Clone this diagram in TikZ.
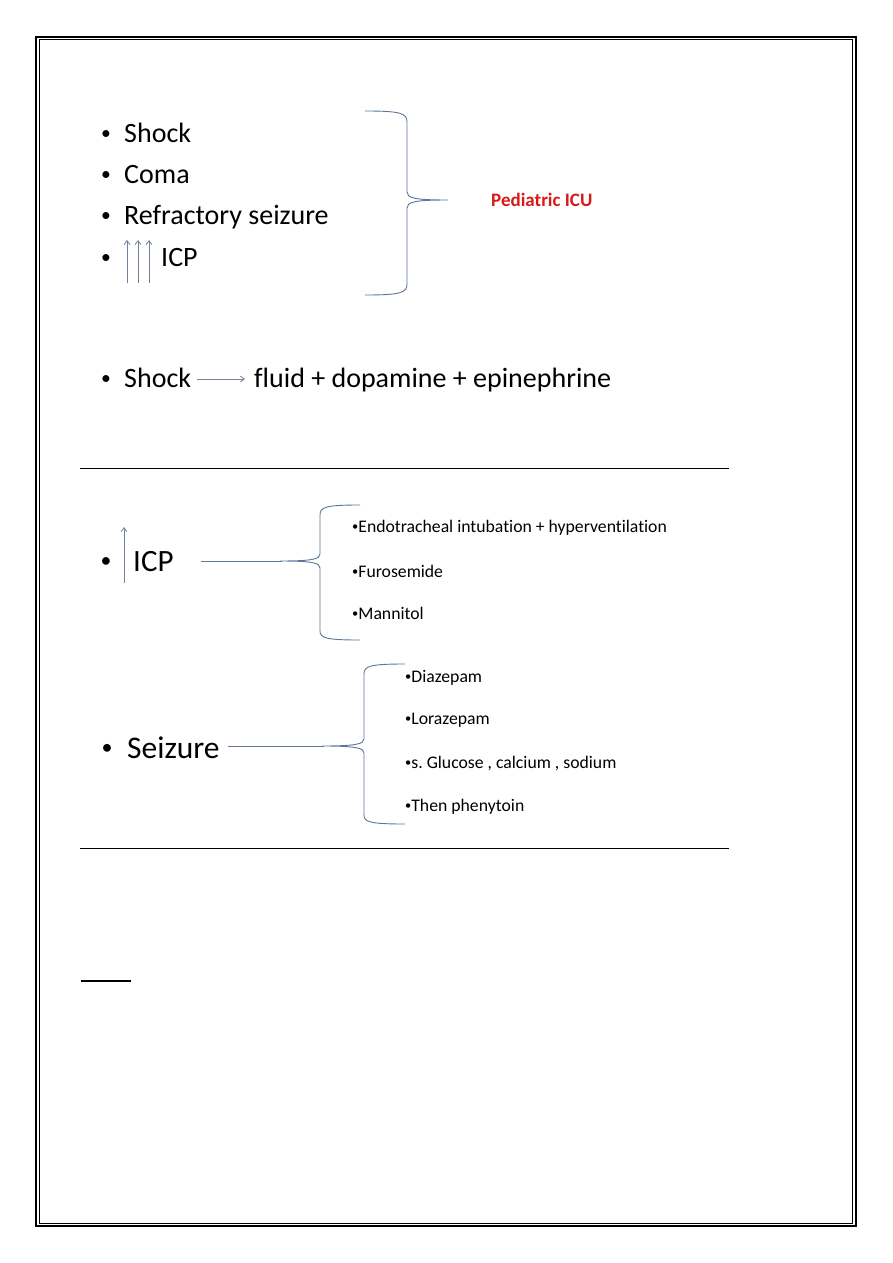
\documentclass[tikz,border=0pt]{standalone}
\usepackage{fontspec}
\setmainfont{Carlito}[Ligatures=NoCommon]
\usetikzlibrary{arrows.meta}
\definecolor{bracecol}{RGB}{90,118,156}
\definecolor{arrcol}{RGB}{112,128,154}
\definecolor{icured}{RGB}{214,26,26}
\newcommand{\smbul}{\raisebox{0.1em}{\scalebox{0.7}{•}}}
\begin{document}
\begin{tikzpicture}[x=1pt,y=-1pt,
  big/.style={inner sep=0pt,anchor=base west,font=\fontsize{28}{31}\selectfont},
  bigbul/.style={inner sep=0pt,anchor=base,font=\fontsize{28}{31}\selectfont},
  item/.style={inner sep=0pt,anchor=base west,font=\fontsize{17.7}{20}\selectfont},
  bracepath/.style={draw=bracecol,line width=0.9pt},
  conn/.style={draw=bracecol!80!gray,line width=0.9pt},
  uparr/.style={draw=arrcol,line width=0.8pt,-{Straight Barb[length=4pt,width=6pt]}},
  rule/.style={draw=black,line width=1pt}]
\useasboundingbox (0,0) rectangle (893,1263);
% page border
\draw[line width=2.3pt] (36.2,36.7) rectangle (856.2,1226.2);
\draw[line width=1pt] (39.2,39.8) rectangle (852.8,1223.2);
% top list
\node[bigbul] (b1) at (106,142) {\smbul};
\node[big] (t1) at (124,142) {Shock};
\node[bigbul] (b2) at (106,183) {\smbul};
\node[big] (t2) at (124,183) {Coma};
\node[bigbul] (b3) at (106,224) {\smbul};
\node[big] (t3) at (124,224) {Refractory seizure};
\node[bigbul] (b4) at (106,266) {\smbul};
\node[big] (t4) at (161,266) {ICP};
\coordinate (a1s) at (127,283); \coordinate (a1e) at (127,240);
\coordinate (a2s) at (138,283); \coordinate (a2e) at (138,240);
\coordinate (a3s) at (149,283); \coordinate (a3e) at (149,240);
\draw[uparr] (a1s) -- (a1e);
\draw[uparr] (a2s) -- (a2e);
\draw[uparr] (a3s) -- (a3e);
% big right brace
\draw[bracepath] (365,111) .. controls (400,111) and (407,113) .. (407,122)
  -- (407,192) .. controls (407,198) and (414,200) .. (448,200)
  .. controls (414,200) and (407,202) .. (407,208)
  -- (407,284) .. controls (407,293) and (400,295) .. (365,295);
\node[inner sep=0pt,anchor=base west,text=icured,font=\fontsize{19}{22}\selectfont\bfseries] (picu) at (491,206) {Pediatric ICU};
% shock line
\node[bigbul] (b5) at (106,387) {\smbul};
\node[big] (s1) at (124,387) {Shock};
\node[big] (s2) at (254,387) {fluid + dopamine + epinephrine};
\coordinate (sa) at (197,379); \coordinate (sb) at (245,379);
\draw[draw=arrcol,line width=0.8pt,-{Straight Barb[length=4pt,width=6pt]}] (sa) -- (sb);
% rule 1
\coordinate (r1a) at (80,468); \coordinate (r1b) at (729,468);
\draw[rule] (r1a) -- (r1b);
% ICP section
\node[inner sep=0pt,anchor=base,font=\fontsize{31}{34}\selectfont] (b6) at (106,571) {\smbul};
\node[inner sep=0pt,anchor=base west,font=\fontsize{31}{34}\selectfont] (icp) at (133,571) {ICP};
\coordinate (ia) at (124,583); \coordinate (ib) at (124,527);
\draw[uparr] (ia) -- (ib);
\coordinate (icpL) at (201,561); \coordinate (icpT) at (282,561);
\draw[conn] (icpL) -- (icpT);
\draw[bracepath] (360,505) .. controls (326,505) and (320,507) .. (320,515)
  -- (320,554) .. controls (320,559) and (313,561) .. (280,561)
  .. controls (313,561) and (320,563) .. (320,568)
  -- (320,631) .. controls (320,638) and (326,640) .. (360,640);
\node[item] (i1) at (352,532) {\smbul Endotracheal intubation + hyperventilation};
\node[item] (i2) at (352,577) {\smbul Furosemide};
\node[item] (i3) at (352,619) {\smbul Mannitol};
% Seizure section
\node[inner sep=0pt,anchor=base,font=\fontsize{31.5}{35}\selectfont] (b7) at (107,758) {\smbul};
\node[inner sep=0pt,anchor=base west,font=\fontsize{31.5}{35}\selectfont] (sz) at (127,758) {Seizure};
\coordinate (szL) at (228,746); \coordinate (szT) at (324,746);
\draw[conn] (szL) -- (szT);
\draw[bracepath] (405,664) .. controls (370,664) and (364,666) .. (364,674)
  -- (364,739) .. controls (364,744) and (356,746) .. (322,746)
  .. controls (356,746) and (364,748) .. (364,753)
  -- (364,815) .. controls (364,822) and (370,824) .. (405,824);
\node[item] (j1) at (405,682) {\smbul Diazepam};
\node[item] (j2) at (405,724) {\smbul Lorazepam};
\node[item] (j3) at (405,768) {\smbul s.\ Glucose , calcium , sodium};
\node[item] (j4) at (405,811) {\smbul Then phenytoin};
% rule 2
\coordinate (r2a) at (80,848); \coordinate (r2b) at (729,848);
\draw[rule] (r2a) -- (r2b);
% short underline
\coordinate (u1) at (81,981); \coordinate (u2) at (131,981);
\draw[draw=black,line width=1.4pt] (u1) -- (u2);
\end{tikzpicture}
\end{document}
